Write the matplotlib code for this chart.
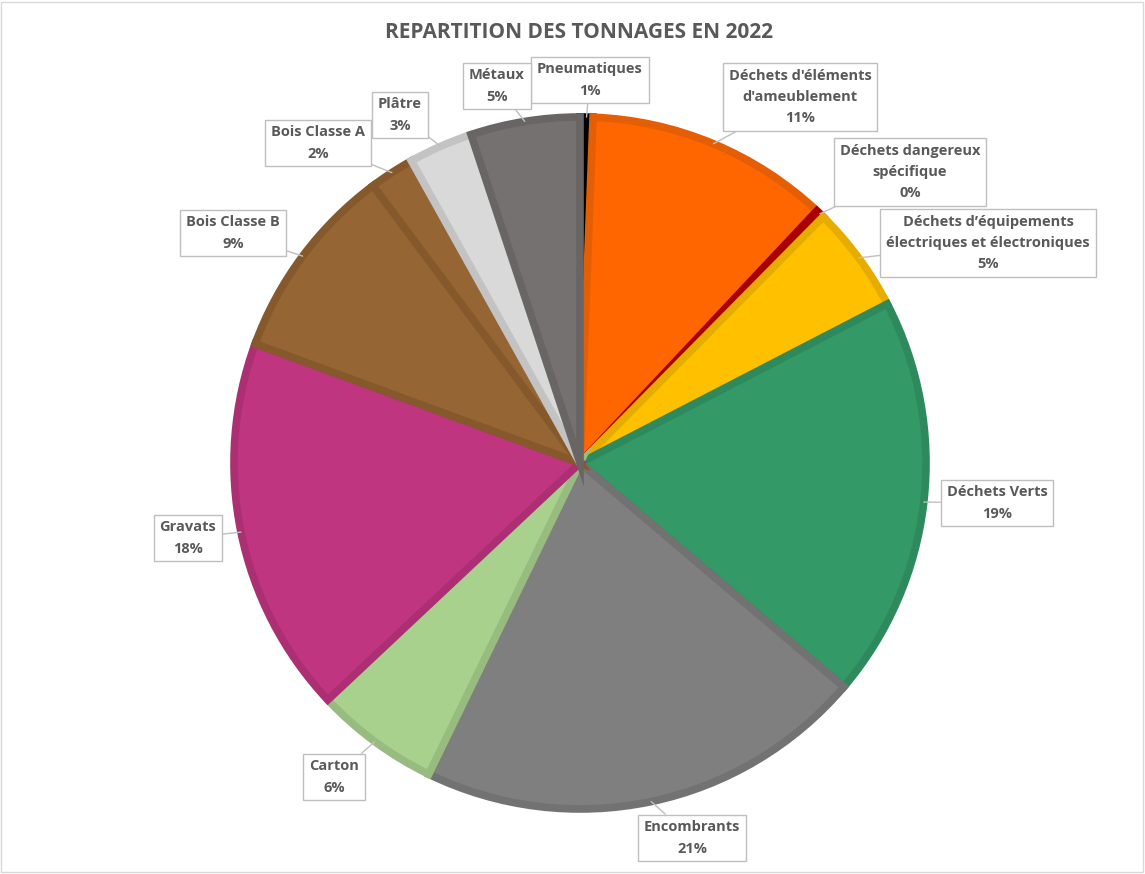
import matplotlib.pyplot as plt
import matplotlib.patches as mpatches
import numpy as np

plt.rcParams['font.family'] = ['Open Sans', 'DejaVu Sans']

categories = ['Pneumatiques', "Déchets d'éléments\nd'ameublement", 'Déchets dangereux\nspécifique',
              'Déchets d’équipements\nélectriques et électroniques', 'Déchets Verts', 'Encombrants',
              'Carton', 'Gravats', 'Bois Classe B', 'Bois Classe A', 'Plâtre', 'Métaux']
values = [0.6, 11.4, 0.4, 5.0, 18.8, 21.0, 5.8, 17.6, 9.2, 2.1, 3.0, 5.1]
colors = ['#000000', '#FF6600', '#C00000', '#FFC000', '#339966', '#7F7F7F',
          '#A9D18E', '#C0357F', '#956633', '#956633', '#D9D9D9', '#767171']
edges = ['#000000', '#E45E05', '#A80000', '#E6AD00', '#2E8A5C', '#727272',
         '#98BC80', '#AD2F73', '#86592D', '#86592D', '#C3C3C3', '#6A6565']
# label box centres (figure pixels, top origin)
label_pos = [(590, 80), (800, 97), (910, 172), (988, 243), (997, 503), (692, 838),
             (334, 777), (188, 538), (233, 233), (318, 143), (400, 115), (497, 86)]

W, H = 1145, 874
fig = plt.figure(figsize=(W / 100, H / 100), dpi=100)
fig.patches.append(mpatches.Rectangle((0.001, 0.002), 0.997, 0.996, transform=fig.transFigure,
                                      fill=False, edgecolor='#D9D9D9', linewidth=1))

cx, cy, r = 580, 463, 346
ax = fig.add_axes([(cx - r) / W, (H - cy - r) / H, 2 * r / W, 2 * r / H])

wedges, _ = ax.pie(values, colors=colors, startangle=90, counterclock=False, radius=1,
                   wedgeprops=dict(linewidth=5.5))
ax.set_xlim(-1, 1)
ax.set_ylim(-1, 1)
ax.set_aspect('equal')
ax.axis('off')
# border drawn inside each slice only
for w, ec in zip(wedges, edges):
    w.set_edgecolor(ec)
    w.set_clip_path(w)

total = sum(values)
for w, cat, v, (lx, ly) in zip(wedges, categories, values, label_pos):
    ang = np.deg2rad((w.theta1 + w.theta2) / 2)
    px, py = np.cos(ang), np.sin(ang)
    txt = f"{cat}\n{round(v / total * 100):d}%"
    ax.annotate(txt, xy=(px, py), xycoords='data', xytext=(lx, H - ly), textcoords='figure pixels',
                ha='center', va='center', fontsize=10.5, fontweight='bold', color='#595959',
                linespacing=1.65, annotation_clip=False,
                bbox=dict(boxstyle='square,pad=0.4', fc='white', ec='#BFBFBF', lw=1),
                arrowprops=dict(arrowstyle='-', color='#BFBFBF', lw=1, shrinkA=0, shrinkB=0))

fig.text(579 / W, 1 - 33 / H, 'REPARTITION DES TONNAGES EN 2022', ha='center', va='center',
         fontsize=15, fontweight='bold', color='#595959')

fig.savefig('out.png', dpi=100)
